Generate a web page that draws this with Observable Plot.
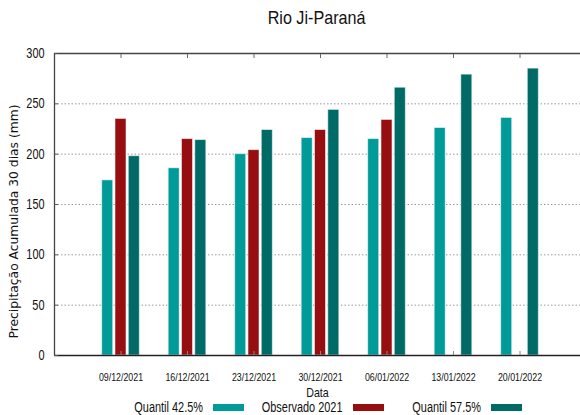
<!DOCTYPE html>
<html>
<head>
<meta charset="utf-8">
<script src="https://cdn.jsdelivr.net/npm/d3@7"></script>
<script src="https://cdn.jsdelivr.net/npm/@observablehq/plot@0.6"></script>
<style>
  html, body { margin: 0; padding: 0; background: #fff; }
  #wrap { position: relative; width: 580px; height: 415px; overflow: hidden; }
  #title { position: absolute; left: 54px; width: 526px; top: 7px; text-align: center; line-height: 22px;
    font-family: "Liberation Sans", Arial, sans-serif; font-size: 19px; color: #111; }
  #title span { display: inline-block; transform: scaleX(0.85); transform-origin: center; }
  #chart { position: absolute; left: 0; top: 38px; }
  #legend { position: absolute; left: 0; top: 399px; width: 580px; height: 16px;
    font-family: "Liberation Sans", Arial, sans-serif; font-size: 14px; line-height: 16px; color: #111; }
  .lt { position: absolute; top: 0px; white-space: nowrap; transform: scaleX(0.78); transform-origin: right center; }
  .ls { position: absolute; top: 5px; height: 7px; }
</style>
</head>
<body>
<div id="wrap">
  <div id="title"><span>Rio Ji-Paraná</span></div>
  <div id="chart"></div>
  <div id="legend"></div>
</div>
<script>
const dates = ["09/12/2021","16/12/2021","23/12/2021","30/12/2021","06/01/2022","13/01/2022","20/01/2022"];
const quantil425 = [174, 186, 200, 216, 215, 226, 236];
const observado2021 = [235, 215, 204, 224, 234, null, null];
const quantil575 = [198, 214, 224, 244, 266, 279, 285];
const seriesNames = ["Quantil 42.5%", "Observado 2021", "Quantil 57.5%"];
const seriesColors = ["#009a99", "#970e10", "#006a66"];
const yTicks = [0, 50, 100, 150, 200, 250, 300];
const yLabel = "Precipitação Acumulada 30 dias (mm)";
const xLabel = "Data";

const seriesValues = [quantil425, observado2021, quantil575];
const rows = [];
seriesValues.forEach((vals, s) => vals.forEach((v, i) => {
  if (v != null) rows.push({i, s, v});
}));
const off = 0.2, hw = 0.083;
const sans = '"Liberation Sans", Arial, sans-serif';

const chart = Plot.plot({
  width: 580,
  height: 362,
  marginTop: 15,
  marginBottom: 45,
  marginLeft: 54,
  marginRight: 0,
  style: { fontFamily: sans, fontSize: "12px", color: "#111", background: "transparent", overflow: "visible" },
  x: { type: "linear", domain: [-1, 7], range: [54, 586] },
  y: { domain: [0, 300] },
  color: { domain: [0, 1, 2], range: seriesColors },
  marks: [
    Plot.ruleY(yTicks.slice(1, -1), { stroke: "#999", strokeDasharray: "1.5,2" }),
    Plot.rect(rows, {
      x1: d => d.i + (d.s - 1) * off - hw,
      x2: d => d.i + (d.s - 1) * off + hw,
      y1: 0, y2: d => d.v,
      fill: d => d.s,
      stroke: "#fff", strokeOpacity: 0.55, strokeWidth: 1
    }),
    Plot.ruleY([0], { stroke: "#222", strokeWidth: 1.3 }),
    Plot.ruleY([300], { stroke: "#444", strokeWidth: 1.3 }),
    Plot.ruleX([-1], { y1: 0, y2: 300, stroke: "#444", strokeWidth: 1.3 }),
    Plot.axisY({ ticks: yTicks, tickSize: 0, tickPadding: 10, fontSize: 14, label: null,
      tickFormat: d => d, className: "narrow-y" }),
    Plot.axisY({ ticks: yTicks, tickSize: -4, tickFormat: () => "", label: null, stroke: "#555" }),
    Plot.axisX({ anchor: "bottom", ticks: d3.range(7), tickSize: 0, tickPadding: 18, fontSize: 11,
      tickFormat: i => dates[i], label: null, className: "narrow-x" }),
    Plot.axisX({ anchor: "bottom", ticks: d3.range(7), tickSize: -4, tickFormat: () => "", label: null, stroke: "#888" }),
    Plot.axisX({ anchor: "top", ticks: d3.range(7), tickSize: -4, tickFormat: () => "", label: null, stroke: "#666" }),
    Plot.text([xLabel], { frameAnchor: "bottom", dy: 37, lineAnchor: "middle", fontSize: 13, className: "narrow-d" }),
    Plot.text([yLabel], { frameAnchor: "left", textAnchor: "middle", dx: -40, dy: 17, rotate: -90,
      lineAnchor: "middle", fontSize: 12.3, fontFamily: "DejaVu Sans" })
  ]
});
document.getElementById("chart").appendChild(chart);

// condense the narrow-font texts (reference uses a narrow sans)
function condense(sel, ratio) {
  chart.querySelectorAll(sel + " text").forEach(t => {
    const L = t.getComputedTextLength();
    if (L > 0) {
      t.setAttribute("textLength", (L * ratio).toFixed(1));
      t.setAttribute("lengthAdjust", "spacingAndGlyphs");
    }
  });
}
condense(".narrow-y", 0.78);
condense(".narrow-x", 0.8);
condense(".narrow-d", 0.82);

const legend = document.getElementById("legend");
const textEnds = [203, 343, 481];
seriesNames.forEach((name, s) => {
  const t = document.createElement("div");
  t.className = "lt";
  t.textContent = name;
  t.style.right = (580 - textEnds[s]) + "px";
  legend.appendChild(t);
  const sw = document.createElement("div");
  sw.className = "ls";
  sw.style.left = (textEnds[s] + 10) + "px";
  sw.style.width = "31px";
  sw.style.background = seriesColors[s];
  legend.appendChild(sw);
});
</script>
</body>
</html>
